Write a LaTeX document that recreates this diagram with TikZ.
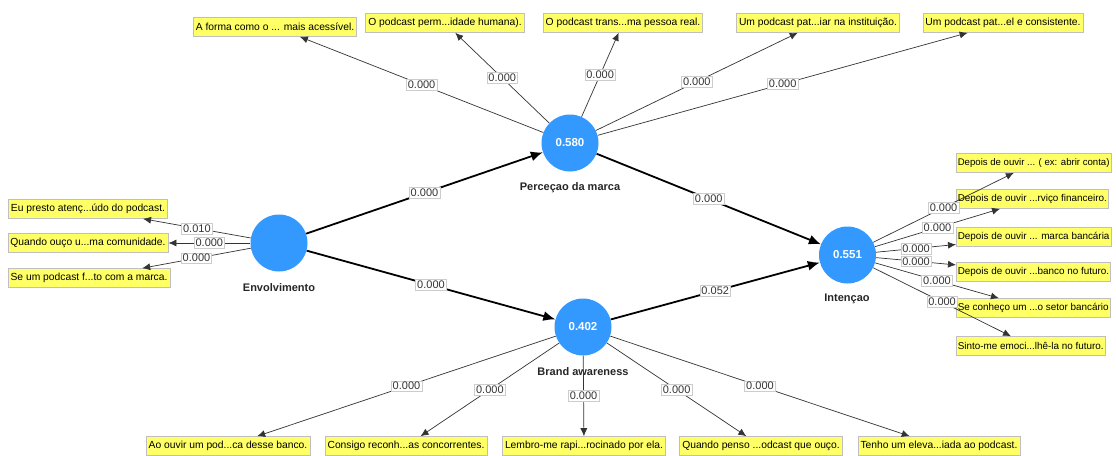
\documentclass[tikz,border=0pt]{standalone}
\usepackage{fontspec}
\setmainfont{Liberation Sans}
\usetikzlibrary{arrows.meta}
\definecolor{lvblue}{RGB}{51,153,255}
\definecolor{indyel}{RGB}{255,255,102}
\begin{document}
\begin{tikzpicture}[x=1pt,y=-1pt,
 lv/.style={circle,fill=lvblue,minimum size=57pt,inner sep=0pt,text=white,font=\fontsize{11.5}{12}\selectfont\bfseries},
 lvname/.style={font=\fontsize{11}{12}\selectfont\bfseries,text=black!85},
 ind/.style={fill=indyel,draw=black!25,line width=0.6pt,minimum height=19pt,inner xsep=2.5pt,inner ysep=0pt,font=\fontsize{10.3}{12}\selectfont},
 indr/.style={ind,anchor=west,inner xsep=1.5pt,font=\fontsize{9.9}{12}\selectfont},
 val/.style={fill=white,draw=black!20,line width=0.5pt,inner sep=1.5pt,font=\fontsize{11}{12}\selectfont,text=black!80},
 meas/.style={draw=black!80,line width=0.7pt,-{Latex[length=8pt,width=7pt]}},
 struct/.style={draw=black,line width=1.8pt,-{Latex[length=12pt,width=10pt]}},
]
\useasboundingbox (0,0) rectangle (1116,455);
\fill[white] (0,0) rectangle (1116,455);

% latent variables
\node[lv] (env) at (279,243) {};
\node[lv] (per) at (570,143) {0.580};
\node[lv] (bra) at (583,327) {0.402};
\node[lv] (int) at (847.5,255) {0.551};
\node[lvname] (envn) at (279,288) {Envolvimento};
\node[lvname] (pern) at (570,188) {Perceçao da marca};
\node[lvname] (bran) at (583,372) {Brand awareness};
\node[lvname] (intn) at (847,299) {Intençao};

% indicators top
\node[ind] (t1) at (275,27) {A forma como o ... mais acessível.};
\node[ind] (t2) at (445,23) {O podcast perm...idade humana).};
\node[ind] (t3) at (623,23) {O podcast trans...ma pessoa real.};
\node[ind] (t4) at (818,23) {Um podcast pat...iar na instituição.};
\node[ind] (t5) at (1003,23) {Um podcast pat...el e consistente.};
% left
\node[ind] (l1) at (88,209) {Eu presto atenç...údo do podcast.};
\node[ind] (l2) at (88,243) {Quando ouço u...ma comunidade.};
\node[ind] (l3) at (89,278) {Se um podcast f...to com a marca.};
% right
\node[indr,font=\fontsize{9.6}{12}\selectfont] (r1) at (956,163) {Depois de ouvir ... ( ex: abrir conta)};
\node[indr] (r2) at (956,199) {Depois de ouvir ...rviço financeiro.};
\node[indr] (r3) at (956,237) {Depois de ouvir ... marca bancária};
\node[indr] (r4) at (956,272) {Depois de ouvir ...banco no futuro.};
\node[indr] (r5) at (956,308) {Se conheço um ...o setor bancário};
\node[indr] (r6) at (956,346) {Sinto-me emoci...lhê-la no futuro.};
% bottom
\node[ind] (b1) at (228,446) {Ao ouvir um pod...ca desse banco.};
\node[ind] (b2) at (406,446) {Consigo reconh...as concorrentes.};
\node[ind] (b3) at (584,446) {Lembro-me rapi...rocinado por ela.};
\node[ind] (b4) at (761,446) {Quando penso ...odcast que ouço.};
\node[ind] (b5) at (939,446) {Tenho um eleva...iada ao podcast.};

% measurement edges
\draw[meas] (per) -- node[val]{0.000} (t1);
\draw[meas] (per) -- node[val]{0.000} (t2);
\draw[meas] (per) -- node[val]{0.000} (t3);
\draw[meas] (per) -- node[val]{0.000} (t4);
\draw[meas] (per) -- node[val]{0.000} (t5);
\draw[meas] (env) -- node[val]{0.010} (l1);
\draw[meas] (env) -- node[val]{0.000} (l2);
\draw[meas] (env) -- node[val]{0.000} (l3);
\draw[meas] (int) -- node[val]{0.000} (r1);
\draw[meas] (int) -- node[val]{0.000} (r2);
\draw[meas] (int) -- node[val]{0.000} (r3);
\draw[meas] (int) -- node[val]{0.000} (r4);
\draw[meas] (int) -- node[val]{0.000} (r5);
\draw[meas] (int) -- node[val]{0.000} (r6);
\draw[meas] (bra) -- node[val]{0.000} (b1);
\draw[meas] (bra) -- node[val]{0.000} (b2);
\draw[meas] (bra) -- node[val]{0.000} (b3);
\draw[meas] (bra) -- node[val]{0.000} (b4);
\draw[meas] (bra) -- node[val]{0.000} (b5);

% structural edges
\draw[struct] (env) -- node[val]{0.000} (per);
\draw[struct] (env) -- node[val]{0.000} (bra);
\draw[struct] (per) -- node[val]{0.000} (int);
\draw[struct] (bra) -- node[val]{0.052} (int);
\end{tikzpicture}
\end{document}
